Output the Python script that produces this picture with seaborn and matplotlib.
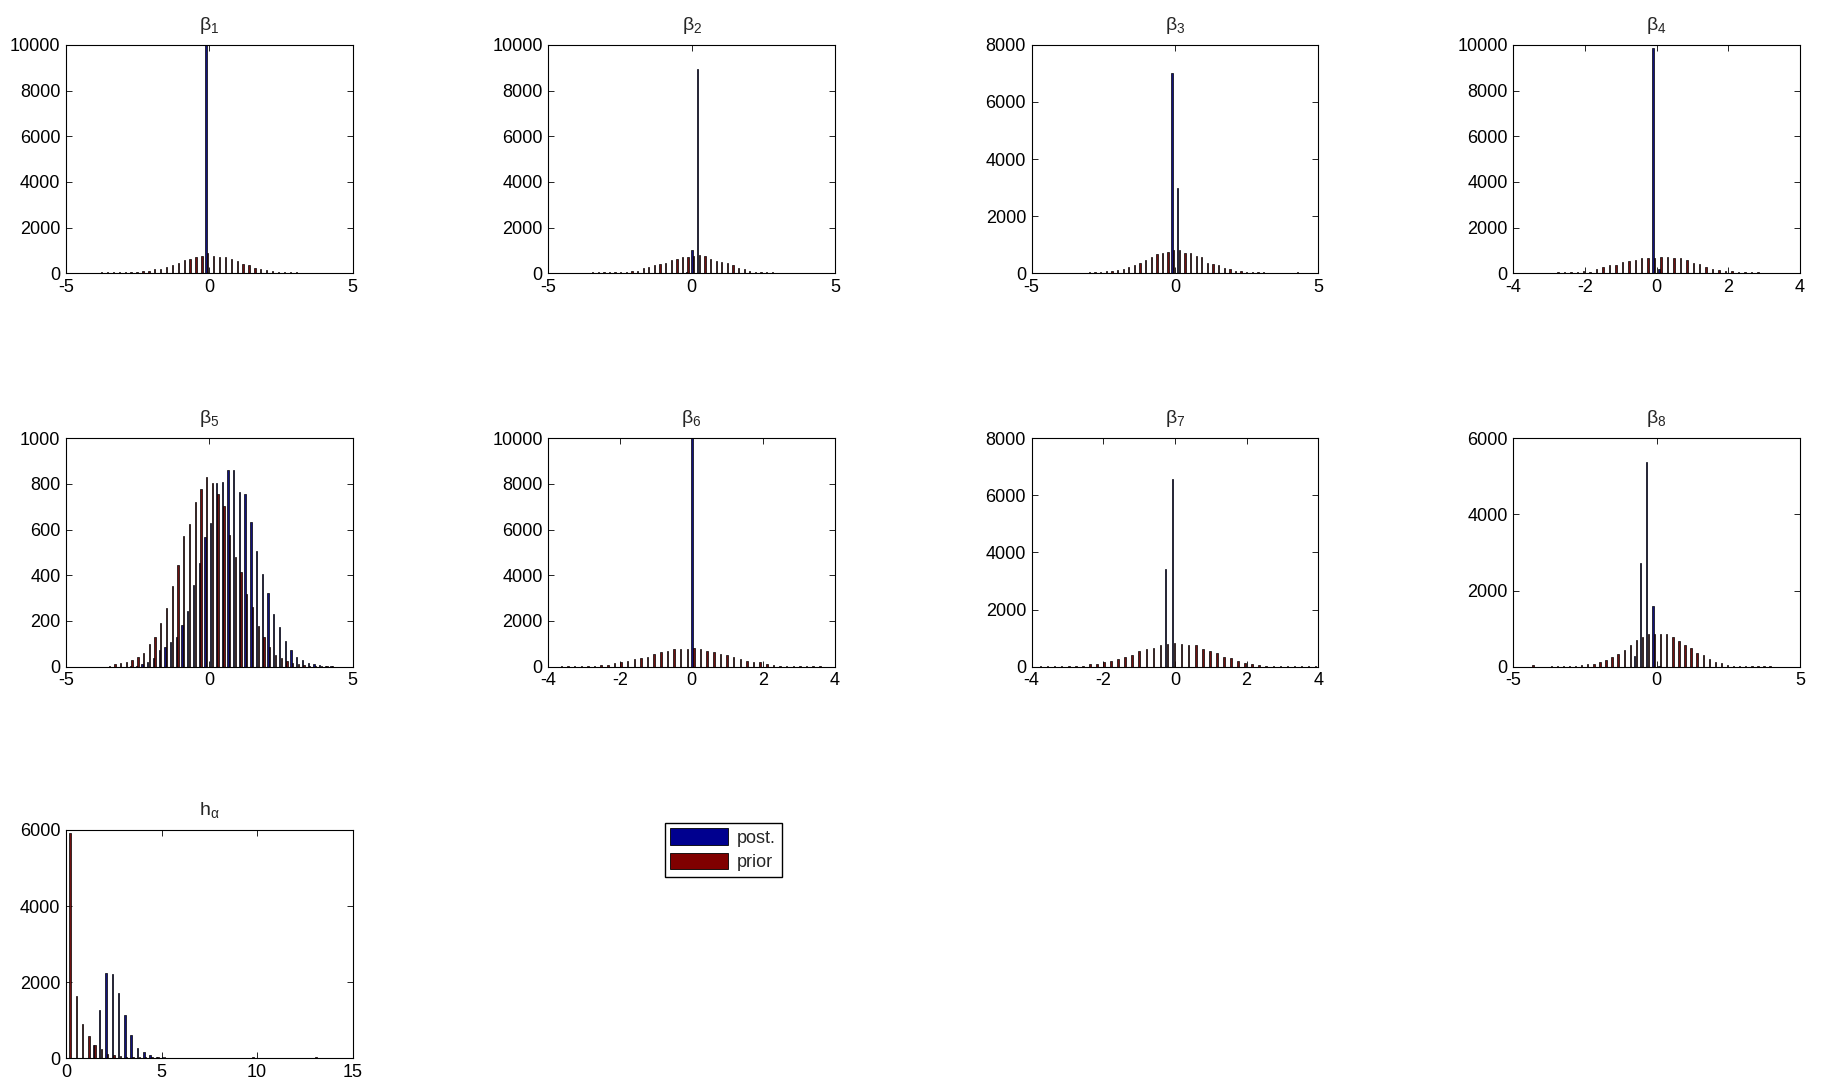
import numpy as np
import pandas as pd
import seaborn as sns
import matplotlib
matplotlib.use("Agg")
import matplotlib.pyplot as plt
from matplotlib.patches import Patch

# --- histogram counts (40 bins per panel) ---
# first / last bin centre of each panel
bins_b1 = (-4.40, 3.62)
bins_b2 = (-4.07, 3.57)
bins_b3 = (-3.40, 4.24)
bins_b4 = (-3.50, 3.52)
bins_b5 = (-3.52, 4.28)
bins_b6 = (-3.66, 3.55)
bins_b7 = (-3.78, 3.90)
bins_b8 = (-4.34, 3.93)
bins_ha = (0.16, 13.03)

post_b1 = [0, 0, 0, 0, 0, 0, 0, 0, 0, 0, 0, 0, 0, 0, 0, 0, 0, 0, 0, 0,
           0, 10000, 0, 0, 0, 0, 0, 0, 0, 0, 0, 0, 0, 0, 0, 0, 0, 0, 0, 0]
prior_b1 = [30, 30, 30, 35, 35, 40, 40, 45, 50, 60, 95, 110, 175, 190, 290, 350, 470, 585, 640, 700,
            760, 870, 775, 715, 700, 640, 525, 410, 350, 235, 175, 160, 90, 60, 40, 35, 35, 30, 30, 30]

post_b2 = [0, 0, 0, 0, 0, 0, 0, 0, 0, 0, 0, 0, 0, 0, 0, 0, 0, 0, 0, 0,
           50, 1000, 8950, 0, 0, 0, 0, 0, 0, 0, 0, 0, 0, 0, 0, 0, 0, 0, 0, 0]
prior_b2 = [30, 30, 30, 35, 35, 35, 40, 40, 45, 70, 100, 110, 230, 290, 350, 410, 470, 585, 610, 700,
            730, 760, 790, 760, 640, 555, 510, 470, 350, 230, 175, 115, 60, 40, 35, 35, 30, 30, 30, 30]

post_b3 = [0, 0, 0, 0, 0, 0, 0, 0, 0, 0, 0, 0, 0, 0, 0, 0, 0, 7020, 3000, 0,
           0, 0, 0, 0, 0, 0, 0, 0, 0, 0, 0, 0, 0, 0, 0, 0, 0, 0, 0, 0]
prior_b3 = [25, 25, 30, 30, 40, 80, 80, 120, 140, 235, 280, 375, 470, 560, 680, 700, 760, 800, 800, 725,
            700, 610, 585, 375, 330, 280, 190, 140, 95, 70, 45, 35, 30, 30, 25, 25, 25, 25, 25, 40]

post_b4 = [0, 0, 0, 0, 0, 0, 0, 0, 0, 0, 0, 0, 0, 0, 0, 0, 0, 0, 0, 9870,
           175, 0, 0, 0, 0, 0, 0, 0, 0, 0, 0, 0, 0, 0, 0, 0, 0, 0, 0, 0]
prior_b4 = [30, 30, 30, 30, 35, 35, 40, 60, 110, 75, 180, 265, 355, 355, 475, 530, 590, 650, 650, 660,
            710, 710, 650, 650, 560, 445, 415, 265, 205, 150, 120, 90, 60, 40, 35, 35, 30, 30, 30, 30]

post_b5 = [0, 0, 0, 0, 2, 5, 10, 20, 40, 73, 88, 110, 128, 182, 245, 358, 453, 567, 628, 806,
           809, 861, 861, 766, 756, 635, 508, 406, 324, 231, 172, 114, 73, 41, 29, 18, 10, 6, 4, 3]
prior_b5 = [5, 10, 15, 20, 27, 41, 58, 100, 130, 193, 255, 355, 445, 570, 625, 723, 777, 829, 806, 756,
            704, 577, 479, 416, 318, 263, 178, 131, 88, 51, 37, 25, 15, 10, 6, 4, 3, 2, 1, 1]

post_b6 = [0, 0, 0, 0, 0, 0, 0, 0, 0, 0, 0, 0, 0, 0, 0, 0, 0, 0, 0, 0,
           10000, 0, 0, 0, 0, 0, 0, 0, 0, 0, 0, 0, 0, 0, 0, 0, 0, 0, 0, 0]
prior_b6 = [30, 30, 35, 35, 40, 50, 65, 90, 146, 204, 263, 320, 380, 438, 555, 640, 700, 760, 760, 790,
            800, 760, 700, 640, 555, 500, 410, 320, 263, 204, 204, 117, 58, 40, 35, 35, 30, 30, 30, 30]

post_b7 = [0, 0, 0, 0, 0, 0, 0, 0, 0, 0, 0, 0, 0, 0, 0, 0, 0, 0, 3420, 6580,
           0, 0, 0, 0, 0, 0, 0, 0, 0, 0, 0, 0, 0, 0, 0, 0, 0, 0, 0, 0]
prior_b7 = [25, 25, 25, 25, 25, 30, 35, 80, 105, 165, 210, 255, 350, 400, 560, 610, 655, 750, 795, 840,
            795, 750, 750, 610, 560, 470, 350, 305, 210, 115, 95, 47, 35, 30, 30, 25, 25, 25, 25, 25]

post_b8 = [0, 0, 0, 0, 0, 0, 0, 0, 0, 0, 0, 0, 0, 0, 0, 0, 0, 280, 2720, 5370,
           1600, 30, 0, 0, 0, 0, 0, 0, 0, 0, 0, 0, 0, 0, 0, 0, 0, 0, 0, 0]
prior_b8 = [40, 0, 0, 26, 26, 26, 26, 26, 35, 70, 70, 114, 175, 263, 333, 438, 560, 700, 790, 860,
            860, 860, 860, 790, 683, 560, 490, 350, 300, 193, 123, 88, 35, 26, 22, 22, 20, 20, 20, 30]

post_ha = [0, 0, 0, 0, 350, 1280, 2234, 2208, 1722, 1130, 609, 283, 177, 88, 45, 25, 15, 10, 5, 3,
           0, 0, 0, 0, 0, 0, 0, 0, 0, 0, 0, 0, 0, 0, 0, 0, 0, 0, 0, 0]
prior_ha = [5915, 1634, 900, 574, 350, 240, 120, 80, 50, 40, 30, 25, 25, 25, 22, 22, 20, 20, 20, 20,
            20, 20, 20, 20, 20, 20, 20, 20, 20, 25, 20, 20, 20, 20, 20, 20, 20, 20, 20, 25]

titles = ["$\\mathregular{β_1}$", "$\\mathregular{β_2}$", "$\\mathregular{β_3}$", "$\\mathregular{β_4}$",
          "$\\mathregular{β_5}$", "$\\mathregular{β_6}$", "$\\mathregular{β_7}$", "$\\mathregular{β_8}$",
          "$\\mathregular{h_α}$"]
xlims = [(-5, 5), (-5, 5), (-5, 5), (-4, 4), (-5, 5), (-4, 4), (-4, 4), (-5, 5), (0, 15)]
ymaxs = [10000, 10000, 8000, 10000, 1000, 10000, 8000, 6000, 6000]
ysteps = [2000, 2000, 2000, 2000, 200, 2000, 2000, 2000, 2000]
xsteps = [5, 5, 5, 2, 5, 2, 2, 5, 5]

series_names = ["post.", "prior"]
colors = ["#00008F", "#800000"]

sns.set_style("white")
plt.rcParams["font.family"] = ["Liberation Sans", "DejaVu Sans"]
plt.rcParams["mathtext.fontset"] = "custom"
plt.rcParams["mathtext.rm"] = "Liberation Sans"
plt.rcParams["axes.unicode_minus"] = False
plt.rcParams["axes.edgecolor"] = "black"
plt.rcParams["axes.linewidth"] = 0.8

panels = [
    (bins_b1, post_b1, prior_b1), (bins_b2, post_b2, prior_b2), (bins_b3, post_b3, prior_b3),
    (bins_b4, post_b4, prior_b4), (bins_b5, post_b5, prior_b5), (bins_b6, post_b6, prior_b6),
    (bins_b7, post_b7, prior_b7), (bins_b8, post_b8, prior_b8), (bins_ha, post_ha, prior_ha),
]

fig = plt.figure(figsize=(18.23, 10.84), dpi=100)
col_left = [0.0362, 0.3008, 0.5659, 0.8301]
row_bottom = [0.7479, 0.3850, 0.0237]
w, h = 0.1572, 0.2107

for i, (bins, post, prior) in enumerate(panels):
    ax = fig.add_axes([col_left[i % 4], row_bottom[i // 4], w, h])
    centers = np.linspace(bins[0], bins[1], len(post)).round(4)
    df = pd.DataFrame({
        "x": np.concatenate([centers, centers]),
        "count": post + prior,
        "series": [series_names[0]] * len(post) + [series_names[1]] * len(prior),
    })
    sns.barplot(data=df, x="x", y="count", hue="series", hue_order=series_names,
                palette=colors, native_scale=True, orient="x", width=0.57, gap=0.2,
                errorbar=None, edgecolor="black", linewidth=0.5, legend=False, ax=ax)
    ax.set_xlim(*xlims[i])
    ax.set_ylim(0, ymaxs[i])
    ax.set_xticks(np.arange(xlims[i][0], xlims[i][1] + 0.1, xsteps[i]))
    ax.set_yticks(np.arange(0, ymaxs[i] + 1, ysteps[i]))
    ax.set_xlabel("")
    ax.set_ylabel("")
    ax.set_title(titles[i], fontsize=14, pad=11)
    ax.tick_params(direction="in", top=True, right=True, bottom=True, left=True,
                   length=4, width=0.6, labelsize=13, colors="black", pad=4)
    for s in ax.spines.values():
        s.set_visible(True)
        s.set_color("black")

handles = [Patch(facecolor=c, edgecolor="black", linewidth=0.6) for c in colors]
fig.legend(handles, series_names, loc="upper left", bbox_to_anchor=(665 / 1823, 1 - 823 / 1084),
           frameon=True, fancybox=False, edgecolor="black", framealpha=1, fontsize=13,
           handlelength=3.2, handleheight=1.0, labelspacing=0.35, borderpad=0.3,
           handletextpad=0.5, borderaxespad=0)

fig.savefig("out.png", dpi=100)
